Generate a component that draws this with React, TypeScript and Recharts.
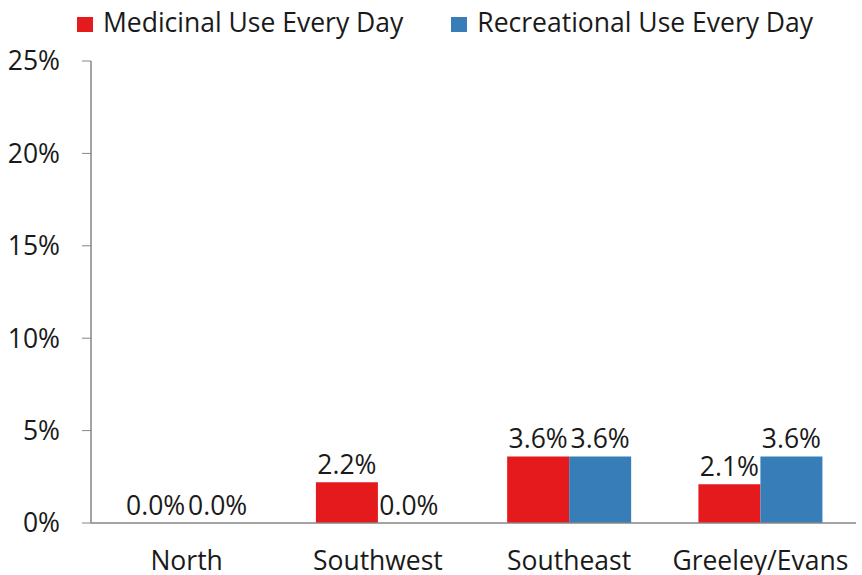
import React from 'react';
import { BarChart, Bar, XAxis, YAxis, LabelList } from 'recharts';

const regions = ['North', 'Southwest', 'Southeast', 'Greeley/Evans'];
const medicinal = [0.0, 2.2, 3.6, 2.1];
const recreational = [0.0, 0.0, 3.6, 3.6];
const yTicks = [0, 5, 10, 15, 20, 25];
const boundaryTicks = [0, 1, 2, 3, 4];

const series = [
  { key: 'medicinal', name: 'Medicinal Use Every Day', color: '#E41A1C' },
  { key: 'recreational', name: 'Recreational Use Every Day', color: '#377EB8' },
];

const data = regions.map((r, i) => ({
  region: r,
  medicinal: medicinal[i],
  recreational: recreational[i],
}));

const font = '"Open Sans", sans-serif';
const textColor = '#1a1a1a';
const axisColor = '#868686';
const fs = 26.5;

export default function App() {
  return (
    <div style={{ position: 'absolute', left: 0, top: 0, width: 862, height: 575, background: '#fff', fontFamily: font }}>
      {/* legend */}
      <div style={{ position: 'absolute', top: 4, left: 77, display: 'flex', gap: 48, fontSize: fs, lineHeight: '36px', color: textColor }}>
        {series.map(s => (
          <div key={s.key} style={{ display: 'flex', alignItems: 'center', gap: 10 }}>
            <span style={{ width: 16, height: 15, background: s.color, display: 'inline-block', marginTop: 4 }}></span>
            <span>{s.name}</span>
          </div>
        ))}
      </div>

      <BarChart
        width={862}
        height={575}
        data={data}
        margin={{ top: 61, right: 6, left: 8, bottom: 0 }}
        barCategoryGap="17.6%"
        barGap={0}
      >
        {/* boundary tick marks between categories */}
        <XAxis
          xAxisId="bounds"
          type="number"
          domain={[0, 4]}
          ticks={boundaryTicks}
          height={0}
          axisLine={false}
          tickLine={{ stroke: axisColor }}
          tickSize={11}
          tickFormatter={() => ''}
        />
        <XAxis
          dataKey="region"
          height={52}
          axisLine={{ stroke: axisColor, strokeWidth: 1.5 }}
          tickLine={false}
          tickSize={0}
          tickMargin={28}
          tick={{ fontSize: fs, fill: textColor, fontFamily: font }}
          interval={0}
        />
        <YAxis
          domain={[0, 25]}
          ticks={yTicks}
          width={83}
          axisLine={{ stroke: axisColor, strokeWidth: 1.5 }}
          tickLine={{ stroke: axisColor }}
          tickSize={9}
          tickMargin={22}
          tick={{ fontSize: fs, fill: textColor, fontFamily: font }}
          tickFormatter={(v: number) => `${v}%`}
        />
        {series.map(s => (
          <Bar key={s.key} dataKey={s.key} name={s.name} fill={s.color} minPointSize={0.01} isAnimationActive={false}>
            <LabelList
              dataKey={s.key}
              position="top"
              offset={8}
              formatter={(v: any) => `${Number(v).toFixed(1)}%`}
              style={{ fontSize: fs, fill: textColor, fontFamily: font }}
            />
          </Bar>
        ))}
      </BarChart>
    </div>
  );
}
